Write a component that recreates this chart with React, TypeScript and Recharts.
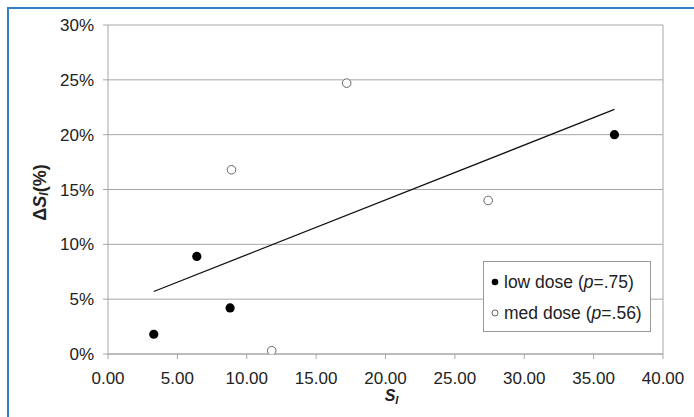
import React from 'react';
import { ScatterChart, Scatter, XAxis, YAxis, CartesianGrid, ReferenceLine } from 'recharts';

const lowX = [3.3, 6.4, 8.8, 36.5];
const lowY = [1.8, 8.9, 4.2, 20.0];
const medX = [8.9, 11.8, 17.2, 27.4];
const medY = [16.8, 0.3, 24.7, 14.0];
const trendX = [3.3, 36.5];
const trendY = [5.7, 22.3];
const xTicks = [0, 5, 10, 15, 20, 25, 30, 35, 40];
const yTicks = [0, 5, 10, 15, 20, 25, 30];
const legendNames = ['low dose', 'med dose'];
const legendP = ['.75', '.56'];

const lowData = lowX.map((x, i) => ({ x, y: lowY[i] }));
const medData = medX.map((x, i) => ({ x, y: medY[i] }));
const trendData = trendX.map((x, i) => ({ x, y: trendY[i] }));

const FONT = '"Liberation Sans", Arial, sans-serif';
const GRID = '#a6a6a6';

const FilledDot = (p: any) => <circle cx={p.cx} cy={p.cy} r={4.6} fill="#000" />;
const OpenDot = (p: any) => <circle cx={p.cx} cy={p.cy} r={4.3} fill="#fff" stroke="#666" strokeWidth={1} />;
const NoDot = () => null;

const YLabel = (props: any) => {
  const vb = props.viewBox || {};
  const cx = 40;
  const cy = (vb.y ?? 25) + (vb.height ?? 329) / 2 + 3;
  return (
    <text
      x={cx}
      y={cy}
      transform={`rotate(-90, ${cx}, ${cy})`}
      textAnchor="middle"
      dominantBaseline="central"
      fontFamily={FONT}
      fontWeight="bold"
      fontSize={18}
      fill="#222"
    >
      Δ<tspan fontStyle="italic">S</tspan>
      <tspan fontStyle="italic" fontSize={12} dy={4}>I</tspan>
      <tspan dy={-4}>(%)</tspan>
    </text>
  );
};

const XLabel = (props: any) => {
  const vb = props.viewBox || {};
  const cx = (vb.x ?? 108) + (vb.width ?? 555) / 2 + 6;
  return (
    <text x={cx} y={401} textAnchor="middle" fontFamily={FONT} fontWeight="bold" fontStyle="italic" fontSize={16} fill="#222">
      S<tspan fontSize={11} dy={3}>I</tspan>
    </text>
  );
};

export default function App() {
  return (
    <div style={{ position: 'absolute', left: 0, top: 0, width: 694, height: 417, overflow: 'hidden', background: '#fff' }}>
      <div style={{ position: 'absolute', left: 7, top: 7, width: 700, height: 420, borderTop: '2px solid #2f7fc9', borderLeft: '2px solid #2f7fc9' }} />
      <div style={{ position: 'absolute', left: 0, top: 0 }}>
        <ScatterChart width={694} height={417} margin={{ top: 25, right: 31, bottom: 0, left: 0 }}>
          <CartesianGrid vertical={false} stroke={GRID} strokeWidth={1} />
          <XAxis
            type="number"
            dataKey="x"
            domain={[0, 40]}
            ticks={xTicks}
            tickFormatter={(v: number) => v.toFixed(2)}
            height={63}
            tickSize={5}
            tickMargin={13}
            stroke={GRID}
            tick={{ fontSize: 17, fill: '#222', fontFamily: FONT }}
            label={{ content: XLabel }}
            allowDataOverflow
          />
          <YAxis
            type="number"
            dataKey="y"
            domain={[0, 30]}
            ticks={yTicks}
            tickFormatter={(v: number) => `${v}%`}
            width={108}
            tickSize={5}
            tickMargin={9}
            stroke={GRID}
            tick={{ fontSize: 17, fill: '#222', fontFamily: FONT }}
            label={{ content: YLabel }}
            allowDataOverflow
          />
          <ReferenceLine x={40} stroke={GRID} strokeWidth={1} />
          <Scatter data={trendData} line={{ stroke: '#111', strokeWidth: 1.3 }} shape={NoDot} isAnimationActive={false} />
          <Scatter data={lowData} shape={FilledDot} isAnimationActive={false} />
          <Scatter data={medData} shape={OpenDot} isAnimationActive={false} />
        </ScatterChart>
      </div>
      <div
        style={{
          position: 'absolute',
          left: 483,
          top: 261,
          width: 168,
          height: 71,
          boxSizing: 'border-box',
          border: '1px solid #999',
          background: '#fff',
          fontFamily: FONT,
          fontSize: 17.5,
          color: '#222',
        }}
      >
        {legendNames.map((name, i) => (
          <div key={name} style={{ position: 'absolute', left: 6, top: i === 0 ? 10 : 41, height: 20, display: 'flex', alignItems: 'center', whiteSpace: 'nowrap' }}>
            <svg width={12} height={12} style={{ marginRight: 2 }}>
              {i === 0 ? (
                <circle cx={5} cy={6} r={3.3} fill="#000" />
              ) : (
                <circle cx={5} cy={6} r={3} fill="#fff" stroke="#666" strokeWidth={1} />
              )}
            </svg>
            <span>
              {name} (<i>p</i>={legendP[i]})
            </span>
          </div>
        ))}
      </div>
    </div>
  );
}
